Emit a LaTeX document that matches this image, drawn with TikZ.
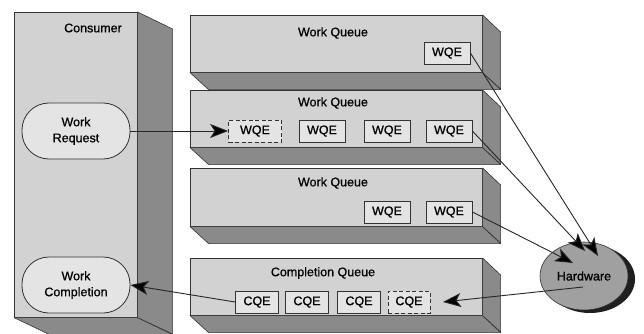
\documentclass[tikz,border=0pt]{standalone}
\usepackage{fontspec}
\setmainfont{Liberation Sans}[FakeBold=0.8]
\usetikzlibrary{arrows.meta,shapes.geometric}
\definecolor{frontgray}{HTML}{D2D2D2}
\definecolor{sidegray}{HTML}{8A8A8A}
\definecolor{entrygray}{HTML}{E4E4E4}
\definecolor{hwgray}{HTML}{A0A0A0}
\definecolor{edgegray}{HTML}{333333}
\begin{document}
\begin{tikzpicture}[x=1pt,y=-1pt,
  every node/.style={font=\fontsize{12.5}{16}\selectfont, text=black},
  front/.style={draw=edgegray, fill=frontgray, line width=0.6pt, rectangle, inner sep=0pt, anchor=north west},
  side/.style={draw=edgegray, fill=sidegray, line width=0.6pt, line join=round},
  entry/.style={draw=edgegray, fill=entrygray, line width=0.8pt, rectangle, minimum width=46pt, minimum height=22pt, inner sep=0pt},
  newentry/.style={entry, dashed, dash pattern=on 4pt off 2.5pt},
  pill/.style={draw=edgegray, fill=entrygray, line width=0.8pt, rectangle, rounded corners=27pt, minimum width=108pt, minimum height=56pt, align=center, inner sep=0pt},
  conn/.style={draw=black!85, line width=0.9pt, -{Stealth[length=18pt,width=14pt,inset=4.5pt,fill=black]}},
  title/.style={text=black}
]
\useasboundingbox (0,0) rectangle (644,334);

% Consumer block
\node[front, minimum width=123pt, minimum height=305pt] (cons) at (14,12) {};
\draw[side] (cons.south west) -- (cons.south east) -- ++(35,17) -- ++(-123,0) -- cycle;
\draw[side] (cons.north east) -- ++(35,17) -- ++(0,305) -- (cons.south east) -- cycle;
\node[title] (constitle) at (93,28) {Consumer};

% Queue blocks
\node[front, minimum width=292pt, minimum height=57pt] (q1) at (190,15) {};
\draw[side] (q1.south west) -- (q1.south east) -- ++(18,17) -- ++(-292,0) -- cycle;
\draw[side] (q1.north east) -- ++(18,17) -- ++(0,57) -- (q1.south east) -- cycle;
\node[title] (q1title) at (333,33) {Work Queue};

\node[front, minimum width=292pt, minimum height=57pt] (q2) at (190,90) {};
\draw[side] (q2.south west) -- (q2.south east) -- ++(18,17) -- ++(-292,0) -- cycle;
\draw[side] (q2.north east) -- ++(18,17) -- ++(0,57) -- (q2.south east) -- cycle;
\node[title] (q2title) at (333,103) {Work Queue};

\node[front, minimum width=292pt, minimum height=58pt] (q3) at (190,168) {};
\draw[side] (q3.south west) -- (q3.south east) -- ++(18,17) -- ++(-292,0) -- cycle;
\draw[side] (q3.north east) -- ++(18,17) -- ++(0,58) -- (q3.south east) -- cycle;
\node[title] (q3title) at (333,183) {Work Queue};

\node[front, minimum width=292pt, minimum height=57pt] (cq) at (190,258) {};
\draw[side] (cq.south west) -- (cq.south east) -- ++(18,17) -- ++(-292,0) -- cycle;
\draw[side] (cq.north east) -- ++(18,17) -- ++(0,57) -- (cq.south east) -- cycle;
\node[title] (cqtitle) at (323,273) {Completion Queue};

% Entries
\node[entry] (w11) at (447,53) {WQE};

\node[newentry, minimum width=53pt] (w21) at (255,131) {WQE};
\node[entry] (w22) at (322,131) {WQE};
\node[entry] (w23) at (387,131) {WQE};
\node[entry] (w24) at (449,131) {WQE};

\node[entry] (w32) at (387,212) {WQE};
\node[entry] (w33) at (449,212) {WQE};

\node[entry, minimum width=43pt] (c1) at (257,302) {CQE};
\node[entry, minimum width=43pt] (c2) at (307,302) {CQE};
\node[entry, minimum width=43pt] (c3) at (359,302) {CQE};
\node[newentry, minimum width=42pt] (c4) at (409,302) {CQE};

% Consumer items
\node[pill] (wr) at (76,131) {Work\\Request};
\node[pill] (wc) at (76,285) {Work\\Completion};

% Hardware
\node[ellipse, fill=black!88, minimum width=90pt, minimum height=68pt, inner sep=0pt] (hwshadow) at (590,279) {};
\node[ellipse, draw=edgegray, fill=hwgray, line width=0.6pt, minimum width=88pt, minimum height=68pt, inner sep=0pt] (hw) at (584,276) {Hardware};

\coordinate (hwin1) at (598,256);
\coordinate (hwin2) at (585,251);
\coordinate (hwin3) at (573,263);
\coordinate (hwout) at (583,287);
\coordinate (c4in) at (443,302);

% Connectors
\draw[conn] (wr.east) -- (w21.west);
\draw[conn] (w11.east) -- (hwin1);
\draw[conn] (w24.east) -- (hwin2);
\draw[conn] (w33.east) -- (hwin3);
\draw[conn] (hwout) -- (c4in);
\draw[conn] (c1.west) -- (wc.east);
\end{tikzpicture}
\end{document}
